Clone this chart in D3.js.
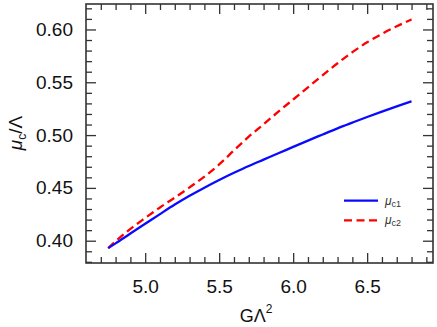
<!DOCTYPE html>
<html>
<head>
<meta charset="utf-8">
<script src="https://cdn.jsdelivr.net/npm/d3@7"></script>
<style>
  body { margin: 0; background: #fff; }
  svg { display: block; }
  .tick text { font-family: "Liberation Sans", Arial, sans-serif; }
</style>
</head>
<body>
<svg id="chart" width="437" height="327"></svg>
<script>
// G*Lambda^2 sample points
const gl2 = [4.75, 4.8, 4.9, 5.0, 5.1, 5.2, 5.3, 5.4, 5.5, 5.6, 5.7, 5.8, 5.9,
             6.0, 6.1, 6.2, 6.3, 6.4, 6.5, 6.6, 6.7, 6.8];
// mu_c1 / Lambda
const muC1 = [0.393, 0.3975, 0.4068, 0.4160, 0.4252, 0.4342, 0.4425, 0.4502, 0.4575, 0.4643, 0.4708,
              0.4768, 0.4828, 0.4888, 0.4948, 0.5006, 0.5064, 0.5118, 0.5171, 0.5222, 0.5272, 0.532];
// mu_c2 / Lambda
const muC2 = [0.393, 0.3995, 0.4112, 0.4215, 0.4315, 0.4408, 0.4505, 0.4607, 0.4722, 0.4855, 0.4985,
              0.5102, 0.5222, 0.5337, 0.5452, 0.5568, 0.5680, 0.5785, 0.5878, 0.5958, 0.6030, 0.6095];

const xMajor = [5.0, 5.5, 6.0, 6.5];
const yMajor = [0.40, 0.45, 0.50, 0.55, 0.60];

const svg = d3.select("#chart");
const plotL = 86, plotR = 433, plotT = 4, plotB = 263;

const x = d3.scaleLinear().domain([4.6, 6.945]).range([plotL, plotR]);
const y = d3.scaleLinear().domain([0.3789, 0.6241]).range([plotB, plotT]);

const xMinor = d3.range(4.7, 6.95, 0.1).filter(v => !xMajor.some(m => Math.abs(m - v) < 1e-6));
const yMinor = d3.range(0.38, 0.625, 0.01).filter(v => !yMajor.some(m => Math.abs(m - v) < 1e-6));

const axisColor = "#333";

function styleAxis(g) {
    g.select(".domain").remove();
    g.selectAll(".tick line").attr("stroke", axisColor).attr("stroke-width", 1.3);
}

// minor ticks on all four sides
svg.append("g").attr("transform", `translate(0,${plotB})`)
    .call(d3.axisBottom(x).tickValues(xMinor).tickSize(-6).tickFormat(""))
    .call(styleAxis);
svg.append("g").attr("transform", `translate(0,${plotT})`)
    .call(d3.axisTop(x).tickValues(xMinor).tickSize(-6).tickFormat(""))
    .call(styleAxis);
svg.append("g").attr("transform", `translate(${plotL},0)`)
    .call(d3.axisLeft(y).tickValues(yMinor).tickSize(-6).tickFormat(""))
    .call(styleAxis);
svg.append("g").attr("transform", `translate(${plotR},0)`)
    .call(d3.axisRight(y).tickValues(yMinor).tickSize(-6).tickFormat(""))
    .call(styleAxis);

// major ticks with labels
svg.append("g").attr("transform", `translate(0,${plotB})`)
    .call(d3.axisBottom(x).tickValues(xMajor).tickSize(-10).tickPadding(17).tickFormat(d3.format(".1f")))
    .call(styleAxis)
    .call(g => g.selectAll("text").attr("font-size", 19).attr("fill", "#111"));
svg.append("g").attr("transform", `translate(0,${plotT})`)
    .call(d3.axisTop(x).tickValues(xMajor).tickSize(-10).tickFormat(""))
    .call(styleAxis);
svg.append("g").attr("transform", `translate(${plotL},0)`)
    .call(d3.axisLeft(y).tickValues(yMajor).tickSize(-10).tickPadding(13).tickFormat(d3.format(".2f")))
    .call(styleAxis)
    .call(g => g.selectAll("text").attr("font-size", 19).attr("fill", "#111"));
svg.append("g").attr("transform", `translate(${plotR},0)`)
    .call(d3.axisRight(y).tickValues(yMajor).tickSize(-10).tickFormat(""))
    .call(styleAxis);

// frame
svg.append("rect")
    .attr("x", plotL).attr("y", plotT)
    .attr("width", plotR - plotL).attr("height", plotB - plotT)
    .attr("fill", "none").attr("stroke", axisColor).attr("stroke-width", 1.6);

// curves
const line = d3.line().curve(d3.curveMonotoneX).x(d => x(d[0])).y(d => y(d[1]));

svg.append("path")
    .datum(gl2.map((g, i) => [g, muC2[i]]))
    .attr("d", line)
    .attr("fill", "none")
    .attr("stroke", "#ff0000")
    .attr("stroke-width", 2.3)
    .attr("stroke-dasharray", "8,4.5");

svg.append("path")
    .datum(gl2.map((g, i) => [g, muC1[i]]))
    .attr("d", line)
    .attr("fill", "none")
    .attr("stroke", "#0a0aff")
    .attr("stroke-width", 2.3);

// legend
const legend = svg.append("g").attr("font-family", "Liberation Sans, Arial, sans-serif");
const legendItems = [
    {sub: "c1", color: "#0a0aff", dash: null, y: 200.7},
    {sub: "c2", color: "#ff0000", dash: "8,4.5", y: 220.3}
];
legendItems.forEach(it => {
    legend.append("line")
        .attr("x1", 344).attr("x2", 378)
        .attr("y1", it.y).attr("y2", it.y)
        .attr("stroke", it.color).attr("stroke-width", 2.3)
        .attr("stroke-dasharray", it.dash);
    const t = legend.append("text")
        .attr("x", 385).attr("y", it.y + 4)
        .attr("font-size", 12).attr("fill", "#333");
    t.append("tspan").attr("font-style", "italic").text("μ");
    t.append("tspan").attr("font-size", 9).attr("dy", 2).text(it.sub);
});

// axis titles
const xt = svg.append("text")
    .attr("x", 256).attr("y", 322)
    .attr("text-anchor", "middle")
    .attr("font-family", "Liberation Sans, Arial, sans-serif")
    .attr("font-size", 18).attr("fill", "#111");
xt.append("tspan").text("GΛ");
xt.append("tspan").attr("font-size", 12).attr("dy", -9).text("2");

const yt = svg.append("text")
    .attr("transform", `translate(22,133) rotate(-90)`)
    .attr("text-anchor", "middle")
    .attr("font-family", "Liberation Sans, Arial, sans-serif")
    .attr("font-size", 19).attr("fill", "#111");
yt.append("tspan").attr("font-style", "italic").text("μ");
yt.append("tspan").attr("font-size", 12).attr("dy", 4).text("c");
yt.append("tspan").attr("dy", -4).text("/Λ");
</script>
</body>
</html>
